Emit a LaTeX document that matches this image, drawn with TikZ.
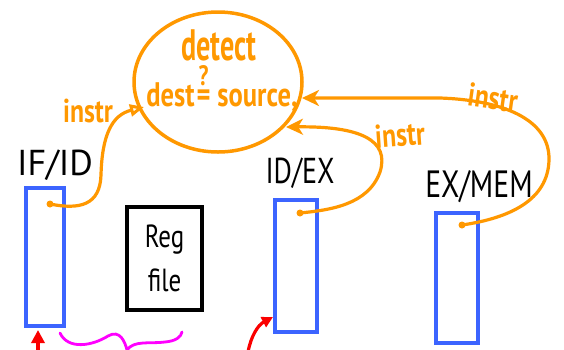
\documentclass[tikz,border=0pt]{standalone}
\usepackage{fontspec}
\setmainfont{PT Sans}
\newfontfamily\hand[FakeStretch=0.78]{PT Sans}
\newfontfamily\handnarrow[FakeStretch=0.64]{PT Sans}
\usetikzlibrary{arrows.meta,shapes.geometric}
\definecolor{penorange}{RGB}{255,152,0}
\definecolor{penblue}{RGB}{60,100,255}
\definecolor{penred}{RGB}{250,0,0}
\definecolor{penpink}{RGB}{255,0,255}
% an equals sign with a question mark set above it
\newcommand{\queryeq}{\ooalign{\hfil=\hfil\cr\hfil\raisebox{21pt}{\fontsize{28}{28}\selectfont ?}\hfil\cr}}
\tikzset{
  latch/.style={draw=penblue, line width=3.5pt, minimum width=38pt, inner sep=0pt},
  regbox/.style={draw=black, line width=3.5pt, minimum width=75pt, minimum height=103pt, inner sep=0pt, align=center, font=\hand\fontsize{32}{44}\selectfont},
  stagelabel/.style={font=\hand\fontsize{36}{36}\selectfont, inner sep=0pt},
  wire/.style={draw=penorange, line width=3.2pt, line cap=round, line join=round},
  olabel/.style={text=penorange, font=\hand\bfseries\fontsize{33}{33}\selectfont, inner sep=0pt},
  cmptext/.style={text=penorange, font=\hand\bfseries\fontsize{34}{34}\selectfont, inner sep=0pt, anchor=base},
  dotstart/.style={fill=penorange, circle, minimum size=7pt, inner sep=0pt}
}
\begin{document}
\begin{tikzpicture}[x=1pt,y=-1pt]
\useasboundingbox (0,0) rectangle (564,349);
\fill[white] (0,0) rectangle (564,349);

% hazard-detection bubble
\node[draw=penorange, line width=3.5pt, ellipse, minimum width=168pt, minimum height=140pt, inner sep=0pt] (det) at (218,82) {};
\node[text=penorange, font=\handnarrow\bfseries\fontsize{44}{44}\selectfont, inner sep=0pt, anchor=base, text depth=0pt] (dettitle) at (219,60) {detect};
\node[cmptext] (cmp) at (222,106) {dest\hspace{2pt}\queryeq\hspace{7pt}source,};

% pipeline latches and register file
\node[latch, minimum height=138pt] (ifid) at (45,257) {};
\node[latch, minimum width=42pt, minimum height=132pt] (idex) at (296,266) {};
\node[latch, minimum width=42pt, minimum height=130pt] (exmem) at (457,278) {};
\node[regbox] (rf) at (164.5,258.5) {Reg\\file};

\node[stagelabel, font=\fontsize{36}{36}\selectfont] (lifid) at (55,165) {IF/ID};
\node[stagelabel] (lidex) at (300,173) {ID/EX};
\node[stagelabel, font=\hand\fontsize{38}{38}\selectfont] (lexmem) at (479,187) {EX/MEM};

% instruction wires into the detector
\coordinate (ifsrc) at (50,204);
\coordinate (idsrc) at (300,213);
\coordinate (exsrc) at (462,225);
\coordinate (inL) at (144,107);
\coordinate (inR1) at (286,127);
\coordinate (inR2) at (302,98);
\node[dotstart] (d1) at (ifsrc) {};
\node[dotstart] (d2) at (idsrc) {};
\node[dotstart] (d3) at (exsrc) {};

\draw[wire, -{Triangle[open, length=14pt, width=12pt, line width=3pt]}]
  (ifsrc) .. controls (80,210) and (100,205) .. (101,175)
  .. controls (102,135) and (112,115) .. (inL);
\draw[wire, -{Stealth[length=17pt, width=16pt, inset=5pt]}]
  (idsrc) .. controls (330,210) and (368,205) .. (380,172)
  .. controls (390,140) and (360,126) .. (inR1);
\draw[wire, -{Stealth[length=17pt, width=16pt, inset=5pt]}]
  (exsrc) .. controls (510,218) and (548,200) .. (549,160)
  .. controls (550,118) and (500,100) .. (440,98) -- (inR2);

\node[olabel] (lab1) at (88,111) {instr};
\node[olabel, rotate=4] (lab2) at (400,135) {instr};
\node[olabel, rotate=-8] (lab3) at (493,98) {instr};

% red pointers and pink squiggle
\coordinate (r1a) at (38,354);
\coordinate (r1b) at (38,330);
\coordinate (r2a) at (248,352);
\coordinate (r2b) at (273,317);
\draw[penred, line width=3.5pt, -{Triangle[length=13pt, width=13pt]}] (r1a) -- (r1b);
\draw[penred, line width=3.2pt, line cap=round, -{Triangle[length=11pt, width=11pt]}]
  (r2a) .. controls (251,336) and (258,325) .. (r2b);
\draw[penpink, line width=2.8pt, line cap=round]
  (60,333) .. controls (68,350) and (92,346) .. (108,336)
  .. controls (120,329) and (125,342) .. (127,350)
  .. controls (134,340) and (150,344) .. (165,342)
  .. controls (176,341) and (181,337) .. (182,332);
\end{tikzpicture}
\end{document}
